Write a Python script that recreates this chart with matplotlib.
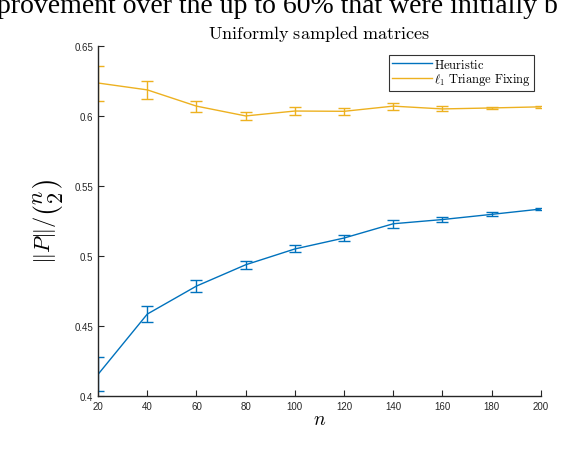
import numpy as np
import matplotlib
matplotlib.use("Agg")
import matplotlib.pyplot as plt
from matplotlib.lines import Line2D

plt.rcParams['mathtext.fontset'] = 'cm'
plt.rcParams['font.family'] = ['Liberation Sans', 'DejaVu Sans']

n = [20, 40, 60, 80, 100, 120, 140, 160, 180, 200]

heur = [0.4155, 0.4585, 0.4785, 0.4937, 0.5050, 0.5128, 0.5230, 0.5260, 0.5297, 0.5335]
heur_err = [0.0120, 0.0055, 0.0045, 0.0030, 0.0025, 0.0020, 0.0028, 0.0020, 0.0014, 0.0007]

tri = [0.6235, 0.6186, 0.6070, 0.6000, 0.6035, 0.6033, 0.6070, 0.6050, 0.6057, 0.6065]
tri_err = [0.0125, 0.0065, 0.0040, 0.0030, 0.0028, 0.0025, 0.0025, 0.0018, 0.0010, 0.0006]

yticks = [0.4, 0.45, 0.5, 0.55, 0.6, 0.65]
ytick_labels = ["0.4", "0.45", "0.5", "0.55", "0.6", "0.65"]

blue = '#0072BD'
yellow = '#EDB120'

fig = plt.figure(figsize=(5.84, 4.6), dpi=100)
ax = fig.add_axes([0.168, 0.137, 0.758, 0.761])

ax.errorbar(n, heur, yerr=heur_err, color=blue, lw=1.0, elinewidth=1.0,
            capsize=4, capthick=1.0)
ax.errorbar(n, tri, yerr=tri_err, color=yellow, lw=1.0, elinewidth=1.0,
            capsize=4, capthick=1.0)

ax.set_xlim(20, 200)
ax.set_ylim(0.4, 0.65)
ax.set_xticks(n)
ax.set_yticks(yticks)
ax.set_yticklabels(ytick_labels)
ax.tick_params(direction='in', length=4, width=0.8, labelsize=7, colors='#262626')
ax.spines['top'].set_visible(False)
ax.spines['right'].set_visible(False)
for s in ['left', 'bottom']:
    ax.spines[s].set_linewidth(1.0)
    ax.spines[s].set_color('#262626')

ax.set_xlabel(r'$n$', fontsize=14, labelpad=0)
ax.set_ylabel(r'$\|P\|/\left(\genfrac{}{}{0}{0}{n}{2}\right)$', fontsize=16, labelpad=6)
ax.set_title(r'$\mathrm{Uniformly\ sampled\ matrices}$', fontsize=13, pad=6)

handles = [Line2D([], [], color=blue, lw=1.0), Line2D([], [], color=yellow, lw=1.0)]
labels = [r'$\mathrm{Heuristic}$', r'$\ell_1\ \mathrm{Triange\ Fixing}$']
leg = ax.legend(handles, labels, loc='upper right', bbox_to_anchor=(0.985, 0.975),
                fontsize=9, frameon=True, fancybox=False, edgecolor='black',
                borderpad=0.25, handlelength=3.2, handletextpad=0.2,
                labelspacing=0.05, borderaxespad=0)
leg.get_frame().set_linewidth(0.8)

fig.text(-0.005, 1.012, 'provement over the up to 60% that were initially b',
         fontsize=20, family='Liberation Serif', va='top', ha='left')

fig.savefig('out.png', dpi=100)
